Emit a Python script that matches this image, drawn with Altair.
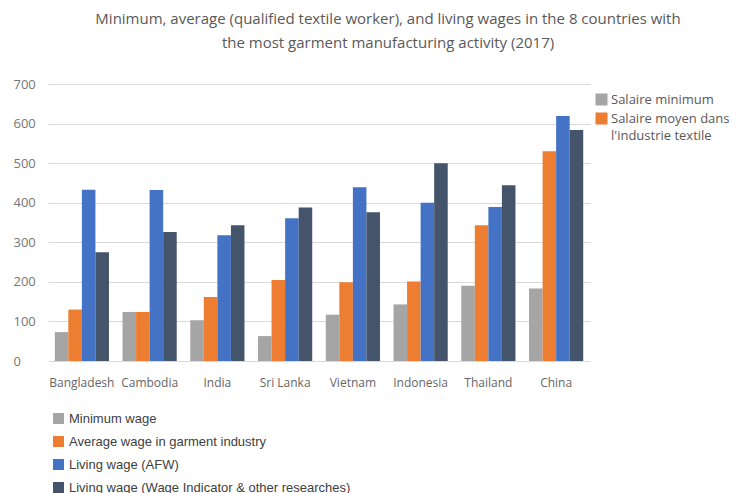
import altair as alt
import pandas as pd

countries = ["Bangladesh", "Cambodia", "India", "Sri Lanka", "Vietnam", "Indonesia", "Thailand", "China"]
minimum_wage = [73, 124, 103, 63, 117, 143, 190, 183]
average_wage = [130, 124, 162, 205, 199, 201, 343, 530]
living_afw = [433, 432, 318, 361, 439, 400, 389, 619]
living_wi = [275, 326, 343, 388, 376, 500, 444, 584]

series_en = ["Minimum wage", "Average wage in garment industry", "Living wage (AFW)",
             "Living wage (Wage Indicator & other researches)"]
series_fr = ["Salaire minimum", ["Salaire moyen dans", "l'industrie textile"]]
colors = ["#A5A5A5", "#ED7D31", "#4472C4", "#44546A"]
y_ticks = [0, 100, 200, 300, 400, 500, 600, 700]

rows = []
for s, vals in zip(series_en, [minimum_wage, average_wage, living_afw, living_wi]):
    for c, v in zip(countries, vals):
        rows.append({"country": c, "series": s, "value": v})
df = pd.DataFrame(rows)

x_enc = alt.X("country:N", sort=countries, title=None,
              scale=alt.Scale(paddingInner=0.2, paddingOuter=0.1),
              axis=alt.Axis(labelAngle=0, ticks=False, domain=False, grid=False,
                            labelFont="Open Sans", labelFontSize=12, labelColor="#666666",
                            labelPadding=16))
y_enc = alt.Y("value:Q", title=None,
              scale=alt.Scale(domain=[0, 700], nice=False),
              axis=alt.Axis(values=y_ticks, ticks=False, domain=False,
                            gridColor="#D9D9D9", labelFont="Open Sans", labelFontSize=13,
                            labelColor="#767676", labelAlign="left", labelPadding=35))
xo = alt.XOffset("series:N", sort=series_en, scale=alt.Scale(paddingInner=0, paddingOuter=0))

bars = alt.Chart(df).mark_bar().encode(
    x=x_enc, y=y_enc, xOffset=xo,
    color=alt.Color("series:N", sort=series_en,
                    scale=alt.Scale(domain=series_en, range=colors),
                    legend=alt.Legend(title=None, orient="none", legendX=4, legendY=328,
                                      symbolType="square", symbolSize=121, symbolStrokeWidth=0,
                                      labelFont="Liberation Sans", labelFontSize=13,
                                      labelColor="#404040", rowPadding=9, labelOffset=4,
                                      labelLimit=400)),
)

fr_expr = ("datum.label == '" + series_en[0] + "' ? '" + series_fr[0] + "' : ['"
           + series_fr[1][0] + "', \"" + series_fr[1][1] + "\"]")

bars_fr = alt.Chart(df).mark_bar(opacity=0).encode(
    x=x_enc, y=y_enc, xOffset=xo,
    color=alt.Color("series:N", sort=series_en,
                    scale=alt.Scale(domain=series_en, range=colors),
                    legend=alt.Legend(title=None, orient="none", legendX=547, legendY=9,
                                      values=series_en[:2], labelExpr=fr_expr,
                                      symbolType="square", symbolSize=144, symbolStrokeWidth=0,
                                      symbolOpacity=1,
                                      labelFont="Open Sans", labelFontSize=13,
                                      labelColor="#595959", rowPadding=5, labelOffset=3,
                                      labelLimit=200)),
)

chart = alt.layer(bars, bars_fr).resolve_scale(color="independent").resolve_legend(
    color="independent"
).properties(
    width=542, height=277,
    autosize=alt.AutoSizeParams(type="none"),
    padding={"left": 40, "top": 76, "right": 139, "bottom": 132},
    view=alt.ViewBackground(stroke="transparent", strokeOpacity=0, strokeWidth=0),
    title=alt.TitleParams(
        text=["Minimum, average (qualified textile worker), and living wages in the 8 countries with",
              "the most garment manufacturing activity (2017)"],
        font="Open Sans", fontSize=15, fontWeight="normal", color="#595959",
        anchor="middle", frame="group", dx=69, offset=27, lineHeight=24),
).configure(
    style={"guide-label": {"lineHeight": 17}},
    view=alt.ViewConfig(stroke="transparent", strokeOpacity=0, strokeWidth=0),
    axis=alt.AxisConfig(domain=False, ticks=False),
    axisX=alt.AxisConfig(grid=False),
)

chart.save("out.html", embed_options={"renderer": "svg", "actions": False})
